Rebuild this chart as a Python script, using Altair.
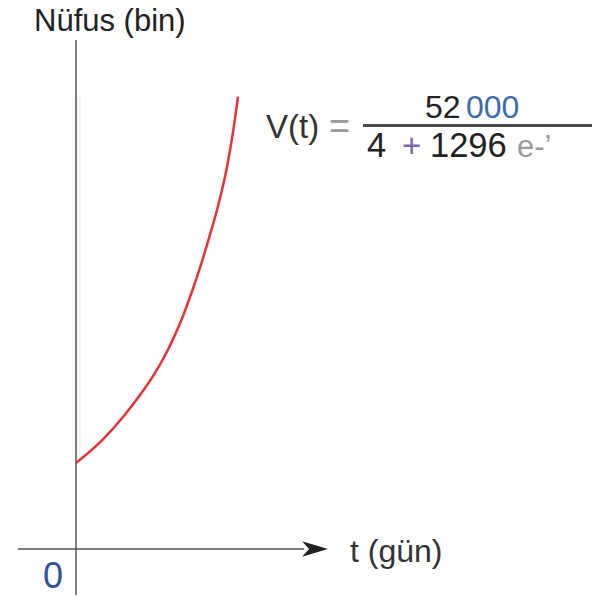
import altair as alt
import pandas as pd

# Curve (t in days, population in thousands)
t_vals = [0.00, 0.27, 0.47, 0.64, 0.77, 0.89, 0.99, 1.07, 1.14, 1.21, 1.27, 1.34, 1.41, 1.51, 1.57, 1.62]
v_vals = [40.0, 51.0, 61.4, 71.6, 80.4, 90.0, 99.6, 108.4, 117.2, 126.6, 135.3, 146.2, 157.7, 177.7, 193.9, 210.4]

X_DOM = [-0.68, 5.16]
Y_DOM = [-21.39, 247.91]
FONT = "Liberation Sans"

xs = alt.Scale(domain=X_DOM, nice=False, zero=False)
ys = alt.Scale(domain=Y_DOM, nice=False, zero=False)


def X(f="x"):
    return alt.X(f"{f}:Q", scale=xs, axis=None)


def Y(f="y"):
    return alt.Y(f"{f}:Q", scale=ys, axis=None)


curve_df = pd.DataFrame({"x": t_vals, "y": v_vals})

# faint strip next to the y axis
strip = alt.Chart(pd.DataFrame({"x": [0.01], "x2": [0.05], "y": [42.0], "y2": [211.0]})).mark_rect(
    color="#f4f4f4"
).encode(x=X(), x2="x2:Q", y=Y(), y2="y2:Q")

# axes
yaxis = alt.Chart(pd.DataFrame({"x": [0.0], "y": [-23.7], "y2": [236.7]})).mark_rule(
    color="#555555", strokeWidth=1.5
).encode(x=X(), y=Y(), y2="y2:Q")
xaxis = alt.Chart(pd.DataFrame({"x": [-0.58], "x2": [2.28], "y": [0.0]})).mark_rule(
    color="#555555", strokeWidth=1.5
).encode(x=X(), x2="x2:Q", y=Y())

arrow = alt.Chart(pd.DataFrame({"x": [2.39], "y": [0.0]})).mark_point(
    shape="M1,0L-1,-0.6L-0.45,0L-1,0.6Z", size=676, filled=True, color="#222222", opacity=1
).encode(x=X(), y=Y())

curve = alt.Chart(curve_df).mark_line(
    color="#e8323a", strokeWidth=2.5, interpolate="monotone"
).encode(x=X(), y=Y(), order="x:Q")

# fraction bar
bar = alt.Chart(pd.DataFrame({"x": [2.87], "x2": [5.17], "y": [197.0]})).mark_rule(
    color="#4a4a4a", strokeWidth=3
).encode(x=X(), x2="x2:Q", y=Y())


def label(text, x, y, size, color):
    return alt.Chart(pd.DataFrame({"x": [x], "y": [y], "t": [text]})).mark_text(
        align="left", baseline="alphabetic", font=FONT, fontSize=size, color=color
    ).encode(x=X(), y=Y(), text="t:N")


texts = [
    label("Nüfus (bin)", -0.42, 240.9, 31, "#222222"),
    label("V(t)", 1.90, 191.0, 33, "#333333"),
    label("=", 2.53, 191.0, 36, "#9a9a9a"),
    label("52", 3.49, 200.4, 32, "#222222"),
    label("000", 3.90, 200.4, 32, "#3d6bab"),
    label("4", 2.91, 182.3, 34.5, "#222222"),
    label("+", 3.26, 182.3, 33, "#7b68a6"),
    label("1296", 3.54, 182.3, 34.5, "#222222"),
    label("e-\u2019", 4.41, 182.3, 31, "#9a9a9a"),
    label("t (gün)", 2.74, -6.1, 32, "#333333"),
    label("0", -0.33, -18.1, 36, "#34549a"),
]

chart = alt.layer(strip, yaxis, xaxis, arrow, curve, bar, *texts).properties(
    width=584, height=579, padding={"top": 8, "left": 0, "right": 0, "bottom": 0},
    autosize=alt.AutoSizeParams(type="none")
).configure_view(strokeWidth=0)

chart.save("out.html", embed_options={"renderer": "svg", "actions": False})
